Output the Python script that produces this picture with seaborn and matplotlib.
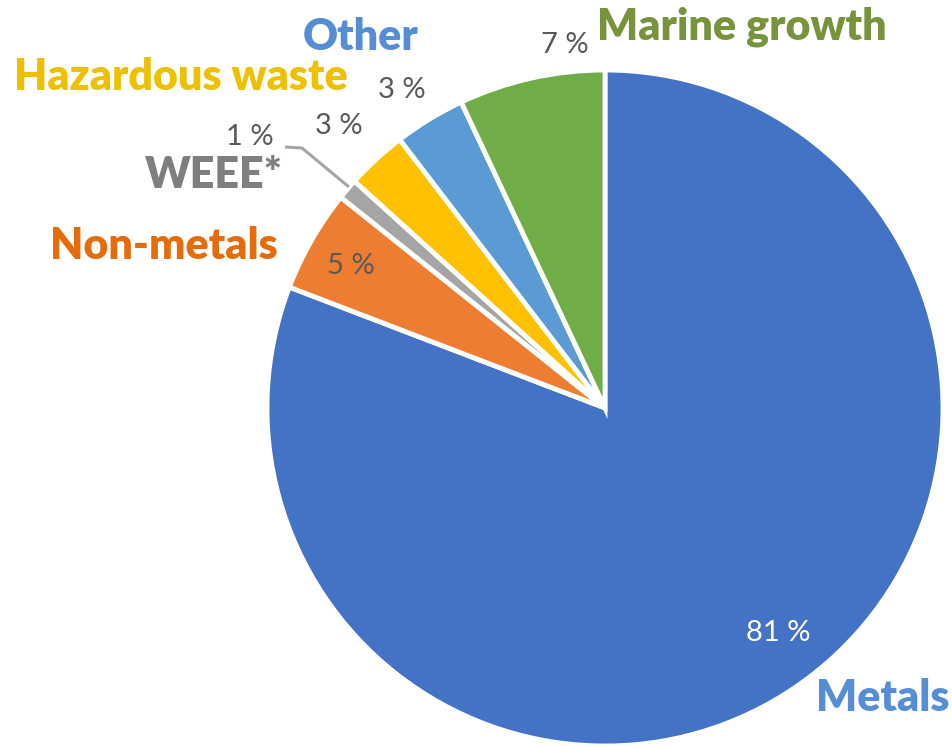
import matplotlib
matplotlib.use("Agg")
import matplotlib.pyplot as plt
import seaborn as sns

categories = ["Metals", "Non-metals", "WEEE*", "Hazardous waste", "Other", "Marine growth"]
shares = [80.9, 4.9, 1.0, 2.9, 3.4, 7.0]
pct_labels = ["81 %", "5 %", "1 %", "3 %", "3 %", "7 %"]
slice_colors = ["#4472C4", "#ED7D31", "#A5A5A5", "#FFC000", "#5B9BD5", "#70AD47"]
name_colors = ["#558ED5", "#E46C0A", "#7F7F7F", "#EEC000", "#558ED5", "#77933C"]

sns.set_theme(style="white")
plt.rcParams['font.family'] = ['Lato', 'DejaVu Sans']

W, H = 953, 747
fig = plt.figure(figsize=(W / 100, H / 100), dpi=100)
ax = fig.add_axes([0, 0, 1, 1])

def Y(y):
    return H - y

ax.pie(shares, colors=slice_colors, startangle=90, counterclock=False,
       center=(605, Y(408)), radius=338,
       wedgeprops=dict(edgecolor="white", linewidth=3.5))
ax.set_xlim(0, W)
ax.set_ylim(0, H)
ax.set_aspect("equal")
ax.axis("off")

# name labels (pixel positions)
name_pos = [(883, 698), (164, 246), (214, 175), (181, 77), (361, 37), (742, 27)]
pct_pos = [(778, 633), (351, 266), (250, 137), (339, 126), (402, 90), (565, 45)]

for name, col, (x, y) in zip(categories, name_colors, name_pos):
    ax.text(x, Y(y), name, color=col, fontsize=31, fontweight="heavy",
            ha="center", va="center")

for i, (lab, (x, y)) in enumerate(zip(pct_labels, pct_pos)):
    ax.text(x, Y(y), lab, color="white" if i == 0 else "#595959",
            fontsize=21, ha="center", va="center")

# leader line for WEEE
ax.plot([285, 302, 349], [Y(147), Y(148), Y(187)], color="#A5A5A5", lw=2.2,
        solid_capstyle="butt")

fig.savefig("out.png", dpi=100)
